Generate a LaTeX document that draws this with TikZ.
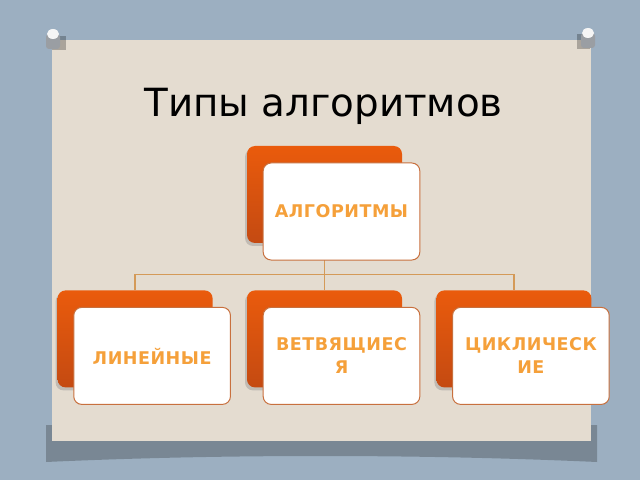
\documentclass[tikz,border=0pt]{standalone}
\usepackage{fontspec}
\setmainfont{DejaVu Sans}
\usetikzlibrary{positioning, shadows}
\definecolor{wall}{HTML}{9CAFC1}
\definecolor{wallshade}{HTML}{6B7782}
\definecolor{paper}{HTML}{E4DCD0}
\definecolor{orangetop}{HTML}{EA5B0C}
\definecolor{orangebot}{HTML}{C44A12}
\definecolor{boxedge}{HTML}{C8703E}
\definecolor{linktan}{HTML}{D49A58}
\definecolor{labelorange}{HTML}{F5A03A}
\definecolor{pinbody}{HTML}{9A9EA3}

\begin{document}
\begin{tikzpicture}[x=1pt, y=1pt,
    % Define the style for each block
    backbox/.style={rectangle, rounded corners=8pt, minimum width=155pt, minimum height=97pt, top color=orangetop, bottom color=orangebot, drop shadow={shadow xshift=-2pt, shadow yshift=-3pt, opacity=.35}},
    frontbox/.style={rectangle, rounded corners=8pt, draw=boxedge, line width=1pt, fill=white, minimum width=155pt, minimum height=97pt, text width=150pt, align=center, text=labelorange, font=\bfseries\fontsize{17.5}{23}\selectfont\addfontfeature{LetterSpace=3}, xshift=17pt, yshift=-17pt},
    connector/.style={draw=linktan, line width=1.3pt},
    node distance=47pt
]

% Wall, paper and pins
\fill[wall] (0,0) rectangle (640,480);
\fill[wallshade, opacity=.7] (46,55) -- (597,55) -- (597,18) .. controls (420,26) and (220,26) .. (46,18) -- cycle;
\fill[paper] (52,39) rectangle (591,440);
\fill[black, opacity=.25] (52,430) rectangle (66,444);
\fill[pinbody, rounded corners=3pt] (46,431) rectangle (60,446);
\fill[white!92!gray] (53,446) ellipse (6pt and 5pt);
\fill[black, opacity=.25] (577,431) rectangle (590,446);
\fill[pinbody, rounded corners=3pt] (581,432) rectangle (595,447);
\fill[white!92!gray] (588,447) ellipse (6pt and 5pt);

\node[anchor=base west, font=\fontsize{38.8}{46}\selectfont] (Title) at (141,363) {Типы алгоритмов};

% Place back blocks using explicit positioning
\node[backbox] (AlgBack) at (324.5,285.5) {};
\node[backbox, below=of AlgBack] (BranchBack) {};
\node[backbox, left=34pt of BranchBack] (LinBack) {};
\node[backbox, right=34pt of BranchBack] (CycBack) {};

% Draw connectors
\coordinate[below=31pt of AlgBack.south] (Split);
\draw[connector] (AlgBack.south) -- (Split);
\draw[connector] (Split) -| (LinBack.north);
\draw[connector] (Split) -- (BranchBack.north);
\draw[connector] (Split) -| (CycBack.north);

% Front blocks with the labels
\node[frontbox] (Alg) at (AlgBack) {АЛГОРИТМЫ};
\node[frontbox] (Lin) at (LinBack) {ЛИНЕЙНЫЕ};
\node[frontbox] (Branch) at (BranchBack) {ВЕТВЯЩИЕС\\Я};
\node[frontbox] (Cyc) at (CycBack) {ЦИКЛИЧЕСК\\ИЕ};
\end{tikzpicture}
\end{document}
